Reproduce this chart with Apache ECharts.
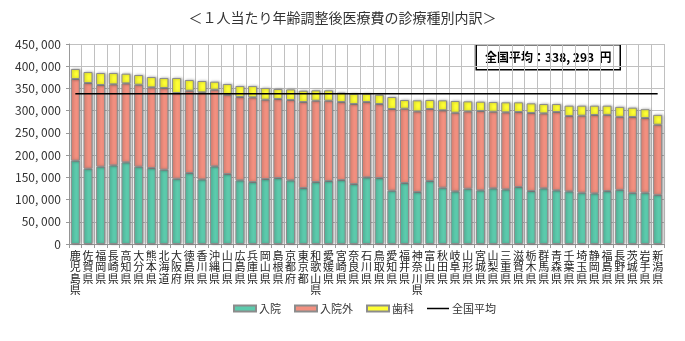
<!DOCTYPE html>
<html>
<head>
<meta charset="utf-8">
<script src="https://cdn.jsdelivr.net/npm/echarts@6/dist/echarts.min.js"></script>
<style>
html,body{margin:0;padding:0;background:#fff;}
#c{width:685px;height:341px;}
</style>
</head>
<body>
<div id="c"></div>
<script>
const categories = ['鹿児島県','佐賀県','福岡県','長崎県','高知県','大分県','熊本県','北海道','大阪府','徳島県','香川県','沖縄県','山口県','広島県','兵庫県','岡山県','島根県','京都府','東京都','和歌山県','愛媛県','宮崎県','奈良県','石川県','鳥取県','愛知県','福井県','神奈川県','富山県','秋田県','岐阜県','山形県','宮城県','山梨県','三重県','滋賀県','栃木県','群馬県','青森県','千葉県','埼玉県','静岡県','福島県','長野県','茨城県','岩手県','新潟県'];
const inpatient = [187400,169400,173900,176900,183700,173900,170900,167200,146900,159700,145400,174700,157400,143200,139400,146200,148400,143200,125900,139400,141700,143900,134900,149900,148400,119900,137200,116900,141700,126700,118400,124400,120700,125200,122900,128200,119200,125200,120700,118400,115400,113900,119000,121800,115000,115400,110500];
const outpatient = [183800,192800,183800,182300,177700,184500,181500,183700,192800,185200,195800,172500,178500,187500,190500,178500,177800,180700,193500,183000,180700,175500,180000,169500,166500,183800,167200,181500,162000,174000,177000,174000,178500,172500,173300,168700,175500,168700,176200,169500,173300,176300,171500,164200,170700,168000,157900];
const dental = [22500,24700,27000,25500,21800,21800,23300,22500,33700,24000,25500,18000,24000,24700,25500,26200,22500,24000,25500,23300,23300,21000,23300,18800,21000,27000,19500,24800,20200,22500,26300,22500,21000,21700,22500,21800,21700,21000,18000,23300,22500,21000,20700,22500,21000,19900,22100];
const nationalAverage = 338293;
const seriesNames = ['入院','入院外','歯科','全国平均'];
const titleText = '＜１人当たり年齢調整後医療費の診療種別内訳＞';

const fmt = v => v.toLocaleString('en-US').replace(/,/g, ', ');
const FONT = '"Noto Sans CJK JP", sans-serif';
const chart = echarts.init(document.getElementById('c'), null, {renderer: 'canvas'});
const barStyle = (color) => ({
  color: color,
  borderColor: '#8c8c8c',
  borderWidth: 1,
  shadowColor: 'rgba(0,0,0,0.35)',
  shadowBlur: 3,
  shadowOffsetX: 1
});
chart.setOption({
  animation: false,
  textStyle: {fontFamily: FONT},
  title: {
    text: titleText, left: 'center', top: 6,
    textStyle: {fontSize: 14, fontWeight: 'normal', color: '#333', fontFamily: FONT}
  },
  grid: {left: 69, right: 21, top: 44, bottom: 97, containLabel: false},
  legend: {
    bottom: 22, left: 228, itemWidth: 22, itemHeight: 6, itemGap: 13,
    symbolKeepAspect: true,
    textStyle: {fontSize: 11, color: '#333', fontFamily: FONT, padding: [0,0,0,-2]},
    data: [
      {name: seriesNames[0], icon: 'rect'},
      {name: seriesNames[1], icon: 'rect'},
      {name: seriesNames[2], icon: 'rect'},
      {name: seriesNames[3], icon: 'path://M0,0 H44 V3 H0 Z', itemStyle: {color: '#000', borderWidth: 0}}
    ]
  },
  xAxis: {
    type: 'category', data: categories, boundaryGap: true,
    axisLine: {show: true, lineStyle: {color: '#999'}},
    axisTick: {show: true, length: 4, lineStyle: {color: '#999'}},
    splitLine: {show: true, lineStyle: {color: '#c0c0c0', width: 1}},
    axisLabel: {
      interval: 0, fontSize: 11, lineHeight: 11.5, color: '#222', margin: 6,
      formatter: v => v.split('').join('\n')
    }
  },
  yAxis: {
    type: 'value', min: 0, max: 450000, interval: 50000,
    axisLine: {show: true, lineStyle: {color: '#999'}},
    axisTick: {show: true, length: 3, lineStyle: {color: '#999'}},
    splitLine: {show: true, lineStyle: {color: '#c0c0c0', width: 1}},
    axisLabel: {fontSize: 12, color: '#333', margin: 8, formatter: v => fmt(v)}
  },
  series: [
    {name: seriesNames[0], type: 'bar', stack: 't', barWidth: 9, data: inpatient, itemStyle: barStyle('#5ccbad')},
    {name: seriesNames[1], type: 'bar', stack: 't', barWidth: 9, data: outpatient, itemStyle: barStyle('#f39080')},
    {name: seriesNames[2], type: 'bar', stack: 't', barWidth: 9, data: dental, itemStyle: barStyle('#ffff33')},
    {name: seriesNames[3], type: 'line', data: categories.map(() => nationalAverage), symbol: 'none', showSymbol: false,
     lineStyle: {color: '#000', width: 1.5}, itemStyle: {color: '#000'}, z: 5}
  ],
  graphic: [{
    type: 'group', right: 64, top: 44, z: 10,
    children: [
      {type: 'rect', shape: {x: 0, y: 0, width: 144, height: 25}, style: {fill: '#fff', stroke: '#000', lineWidth: 1.5}},
      {type: 'text', x: 72, y: 12.5, style: {text: '全国平均：' + fmt(nationalAverage) + '  円', font: 'bold 12px ' + FONT, fill: '#000', align: 'center', verticalAlign: 'middle'}}
    ]
  }]
});
</script>
</body>
</html>
